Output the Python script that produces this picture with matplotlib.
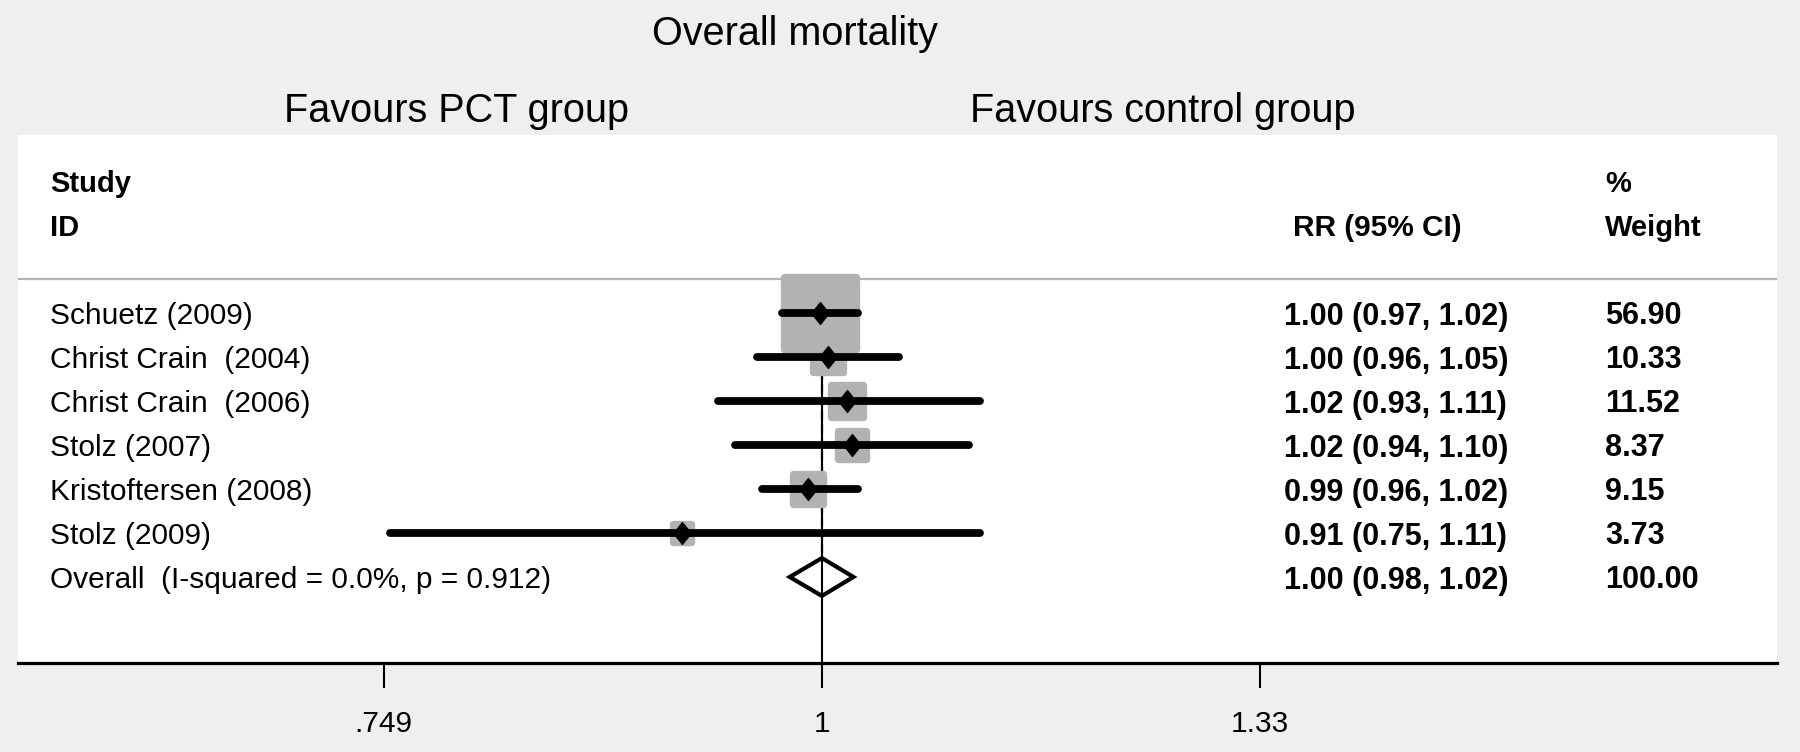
import numpy as np
import matplotlib
matplotlib.use("Agg")
import matplotlib.pyplot as plt
from matplotlib.path import Path
from matplotlib.markers import MarkerStyle
import matplotlib.transforms as mtransforms

plt.rcParams['font.family'] = ['Liberation Sans', 'DejaVu Sans']

# ---- data ----
studies = ["Schuetz (2009)", "Christ Crain  (2004)", "Christ Crain  (2006)",
           "Stolz (2007)", "Kristoftersen (2008)", "Stolz (2009)"]
rr = [0.999, 1.004, 1.017, 1.020, 0.991, 0.912]
ci_low = [0.974, 0.958, 0.934, 0.944, 0.961, 0.752]
ci_high = [1.024, 1.052, 1.110, 1.102, 1.024, 1.110]
weights = [56.90, 10.33, 11.52, 8.37, 9.15, 3.73]
overall_label = "Overall  (I-squared = 0.0%, p = 0.912)"
overall_rr = 1.000
overall_low = 0.979
overall_high = 1.021
overall_weight = 100.00
tick_values = [0.749, 1.0, 1 / 0.749]
tick_labels = [".749", "1", "1.33"]
title = "Overall mortality"
favours_left = "Favours PCT group"
favours_right = "Favours control group"

# ---- figure ----
W, H = 1800, 752
fig = plt.figure(figsize=(W / 100, H / 100), dpi=100)
fig.patch.set_facecolor('#efefef')

px_left, px_right, px_top, px_bottom = 18, 1777, 135, 663
ax = fig.add_axes([px_left / W, (H - px_bottom) / H,
                   (px_right - px_left) / W, (px_bottom - px_top) / H])
ax.set_facecolor('white')
ax.set_xscale('log')
ax.set_xlim(0.5886, 1.877)
ax.set_ylim(7.955, -4.045)

for s in ['top', 'left', 'right']:
    ax.spines[s].set_visible(False)
ax.spines['bottom'].set_linewidth(2.3)
ax.spines['bottom'].set_color('black')
ax.set_yticks([])
ax.set_xticks(tick_values)
ax.set_xticklabels(tick_labels)
ax.xaxis.set_minor_locator(matplotlib.ticker.NullLocator())
ax.tick_params(axis='x', direction='out', length=18, width=1.5,
               labelsize=21.5, pad=16, colors='black')

n = len(studies)
ypos = np.arange(n)
y_over = n

# header separator
ax.axhline(-0.773, color='#b4b4b4', lw=1.6, zorder=1)

# null line and overall dashed line
ax.vlines(1.0, -0.5, 7.955, color='black', lw=1.5, zorder=2)
ax.vlines(overall_rr, -0.5, y_over - 0.45, color='black', lw=1.6,
          linestyles=(0, (4, 2)), zorder=2)

# weight boxes
box_marker = MarkerStyle('s', joinstyle='round')
for y, r, w in zip(ypos, rr, weights):
    ax.plot([r], [y], marker=box_marker, markersize=6.94 * np.sqrt(w),
            markerfacecolor='#b2b2b2', markeredgecolor='#b2b2b2',
            markeredgewidth=5.3, linestyle='none', zorder=3)

# CI lines
for y, lo, hi in zip(ypos, ci_low, ci_high):
    ax.plot([lo, hi], [y, y], color='black', lw=5.6,
            solid_capstyle='round', zorder=4)

# point estimate diamonds
diamond = Path([(0, 1), (0.8, 0), (0, -1), (-0.8, 0), (0, 1)],
               [Path.MOVETO, Path.LINETO, Path.LINETO, Path.LINETO, Path.CLOSEPOLY])
ax.plot(rr, ypos, marker=diamond, markersize=16, color='black',
        markeredgewidth=0.8, linestyle='none', zorder=5)

# overall diamond
dh = 0.43
ax.fill([overall_low, overall_rr, overall_high, overall_rr, overall_low],
        [y_over, y_over - dh, y_over, y_over + dh, y_over],
        facecolor='none', edgecolor='black', lw=3.0, zorder=5,
        joinstyle='miter')

# text columns
trans = mtransforms.blended_transform_factory(ax.transAxes, ax.transData)
x_lab = (50 - px_left) / (px_right - px_left)
x_rr = (1284 - px_left) / (px_right - px_left)
x_rr_head = (1293 - px_left) / (px_right - px_left)
x_w = (1605 - px_left) / (px_right - px_left)
fs_lab = 21.5
fs_val = 22
dy = 0.08

ax.text(x_lab, -3 + dy, "Study", transform=trans, fontsize=21, fontweight='bold', va='center')
ax.text(x_lab, -2 + dy, "ID", transform=trans, fontsize=21, fontweight='bold', va='center')
ax.text(x_rr_head, -2 + dy, "RR (95% CI)", transform=trans, fontsize=21.5, fontweight='bold', va='center')
ax.text(x_w, -3 + dy, "%", transform=trans, fontsize=21, fontweight='bold', va='center')
ax.text(x_w, -2 + dy, "Weight", transform=trans, fontsize=21, fontweight='bold', va='center')

for y, name, r, lo, hi, w in zip(ypos, studies, rr, ci_low, ci_high, weights):
    ax.text(x_lab, y + dy, name, transform=trans, fontsize=fs_lab, va='center')
    ax.text(x_rr, y + dy, f"{r:.2f} ({lo:.2f}, {hi:.2f})", transform=trans,
            fontsize=fs_val, fontweight='bold', va='center')
    ax.text(x_w, y + dy, f"{w:.2f}", transform=trans, fontsize=fs_val,
            fontweight='bold', va='center')

ax.text(x_lab, y_over + dy, overall_label, transform=trans, fontsize=fs_lab, va='center')
ax.text(x_rr, y_over + dy, f"{overall_rr:.2f} ({overall_low:.2f}, {overall_high:.2f})",
        transform=trans, fontsize=fs_val, fontweight='bold', va='center')
ax.text(x_w, y_over + dy, f"{overall_weight:.2f}", transform=trans, fontsize=fs_val,
        fontweight='bold', va='center')

# titles
fig.text(795 / W, (H - 45) / H, title, ha='center', va='baseline', fontsize=28.5)
fig.text(456 / W, (H - 122) / H, favours_left, ha='center', va='baseline', fontsize=28.5)
fig.text(1163 / W, (H - 122) / H, favours_right, ha='center', va='baseline', fontsize=28.5)

fig.savefig("out.png", dpi=100, facecolor=fig.get_facecolor())
